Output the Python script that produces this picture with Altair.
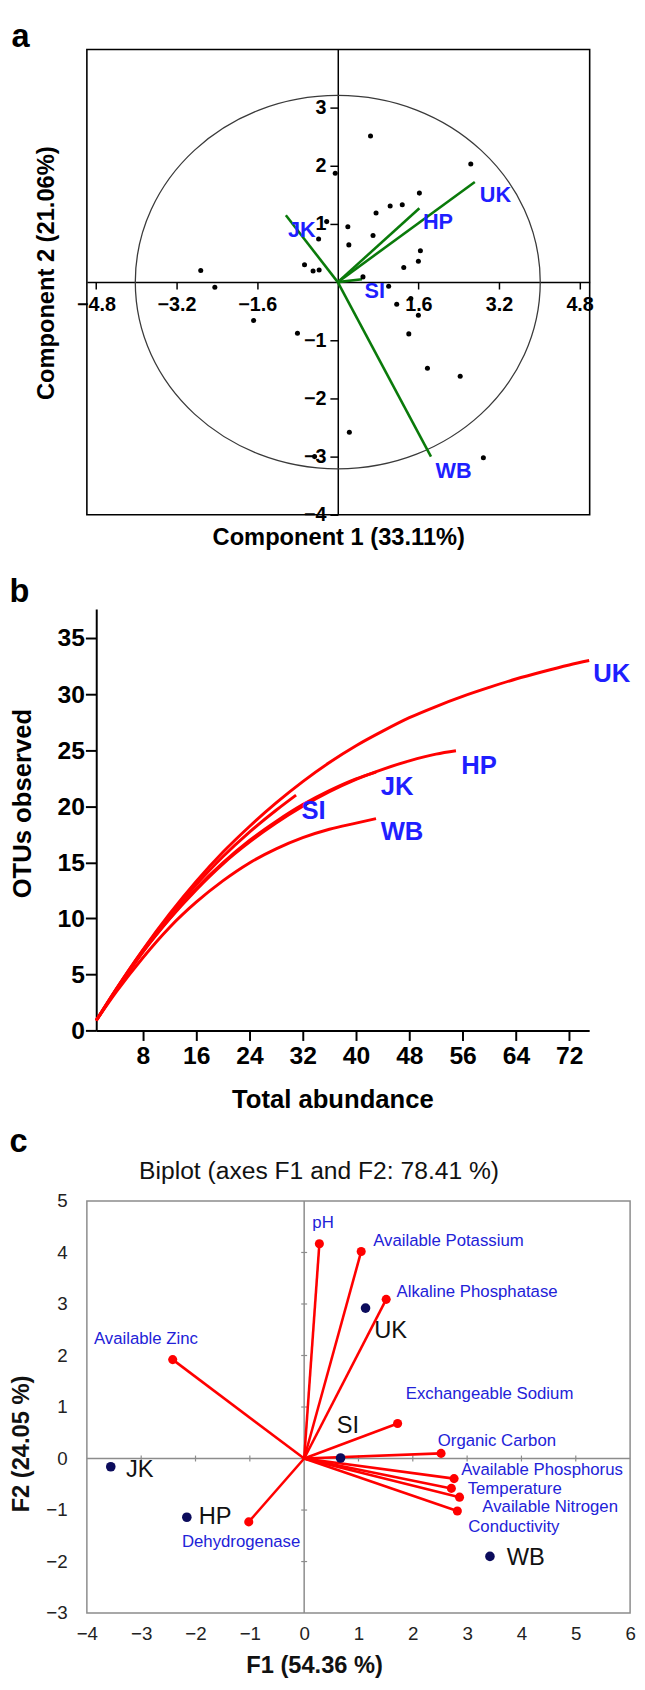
import altair as alt
import pandas as pd

FONT = "Liberation Sans"
BLUE = "#1f1fff"
GREEN = "#0a7a0a"
RED = "#ff0000"
NAVY = "#0c0c5c"
GRAY = "#8c8c8c"

# ---------------- panel a data ----------------
a_pts_x = [0.65, 2.64, -0.05, 1.62, 1.04, 1.28, 0.76, -0.22, 0.20, -0.38,
           0.70, 0.22, 1.64, 1.60, 1.31, -0.66, -0.49, -0.37, 0.50, -2.72,
           -2.44, 1.01, 1.45, 1.17, 1.60, -1.67, -0.80, 1.41, 1.78, 2.43,
           0.23, 2.89, -0.46]
a_pts_y = [2.51, 2.03, 1.87, 1.53, 1.31, 1.33, 1.19, 1.04, 0.95, 0.74,
           0.80, 0.64, 0.54, 0.36, 0.25, 0.30, 0.19, 0.21, 0.09, 0.20,
           -0.09, -0.07, -0.28, -0.38, -0.57, -0.66, -0.88, -0.89, -1.48, -1.62,
           -2.58, -3.02, -3.00]
a_sites = ["UK", "HP", "JK", "SI", "WB"]
a_vec_x = [2.72, 1.62, -1.03, 0.48, 1.85]
a_vec_y = [1.72, 1.27, 1.15, 0.05, -3.00]
a_lab_x = [2.82, 1.69, -0.99, 0.53, 1.94]
a_lab_y = [1.49, 1.04, 0.90, -0.16, -3.25]
a_xticks = [-4.8, -3.2, -1.6, 1.6, 3.2, 4.8]
a_yticks = [-4, -3, -2, -1, 1, 2, 3]

# ---------------- panel b data ----------------
b_x_UK = [1, 4, 8, 12, 16, 20, 24, 28, 32, 36, 40, 44, 48, 52, 56, 60, 64, 68, 72, 75]
b_y_UK = [0.9, 3.7, 7.2, 10.4, 13.3, 15.9, 18.2, 20.3, 22.2, 23.9, 25.4, 26.7, 27.9,
          28.9, 29.8, 30.6, 31.35, 32.0, 32.6, 33.0]
b_x_HP = [1, 4, 8, 12, 16, 20, 24, 28, 32, 36, 40, 44, 48, 52, 55]
b_y_HP = [0.9, 3.6, 7.0, 9.95, 12.55, 14.85, 16.8, 18.5, 20.0, 21.3, 22.4, 23.3, 24.05, 24.65, 24.95]
b_x_JK = [1, 4, 8, 12, 16, 20, 24, 28, 32, 36, 40, 43]
b_y_JK = [0.9, 3.65, 7.05, 10.0, 12.65, 14.95, 16.95, 18.65, 20.15, 21.4, 22.45, 23.05]
b_x_SI = [1, 4, 8, 12, 16, 20, 24, 28, 31]
b_y_SI = [0.9, 3.7, 7.15, 10.25, 13.0, 15.5, 17.7, 19.65, 21.0]
b_x_WB = [1, 4, 8, 12, 16, 20, 24, 28, 32, 36, 40, 43]
b_y_WB = [0.9, 3.45, 6.5, 9.2, 11.45, 13.35, 14.95, 16.2, 17.2, 17.95, 18.5, 18.9]
b_sites = ["UK", "HP", "JK", "SI", "WB"]
b_lab_x = [75.6, 55.8, 43.7, 31.8, 43.7]
b_lab_y = [31.8, 23.6, 21.7, 19.6, 17.7]
b_xticks = [8, 16, 24, 32, 40, 48, 56, 64, 72]
b_yticks = [0, 5, 10, 15, 20, 25, 30, 35]

# ---------------- panel c data ----------------
c_vars = ["pH", "Available Potassium", "Alkaline Phosphatase", "Available Zinc",
          "Exchangeable  Sodium", "Organic Carbon", "Available Phosphorus",
          "Temperature", "Available Nitrogen", "Conductivity", "Dehydrogenase"]
c_var_x = [0.28, 1.05, 1.51, -2.42, 1.72, 2.52, 2.76, 2.71, 2.86, 2.82, -1.02]
c_var_y = [4.17, 4.02, 3.09, 1.92, 0.68, 0.10, -0.39, -0.58, -0.75, -1.02, -1.23]
c_var_lx = [0.15, 1.27, 1.70, -3.87, 1.87, 2.46, 2.89, 3.01, 3.28, 3.02, -2.25]
c_var_ly = [4.57, 4.22, 3.23, 2.32, 1.25, 0.34, -0.22, -0.59, -0.95, -1.33, -1.63]
c_sites = ["UK", "SI", "JK", "HP", "WB"]
c_site_x = [1.13, 0.67, -3.56, -2.16, 3.42]
c_site_y = [2.92, 0.01, -0.16, -1.14, -1.90]
c_site_lx = [1.29, 0.60, -3.28, -1.94, 3.73]
c_site_ly = [2.48, 0.62, -0.22, -1.13, -1.93]
c_xticks = [-4, -3, -2, -1, 0, 1, 2, 3, 4, 5, 6]
c_yticks = [-3, -2, -1, 0, 1, 2, 3, 4, 5]
c_inner_x = [-3, -2, -1, 1, 2, 3, 4, 5]
c_inner_y = [-2, -1, 1, 2, 3, 4]

one = pd.DataFrame({"cx": [0.0], "cy": [0.0]})

# =============== PANEL A ===============
A_W, A_H = 510, 472
axs = alt.Scale(domain=[-4.98, 5.0], nice=False, zero=False)
ays = alt.Scale(domain=[-4, 4], nice=False, zero=False)

a_ax_x = alt.Axis(orient="bottom", offset=-236, values=a_xticks, format=".1f", grid=False,
                  tickSize=7, tickWidth=1.5, tickColor="black", domainColor="black", domainWidth=1.5,
                  labelFontSize=20, labelFontWeight="bold", labelColor="black", labelPadding=6,
                  labelOverlap=False, labelFlush=False, labelBound=False,
                  title="Component 1 (33.11%)", titleFontSize=24, titleFontWeight="bold",
                  titleColor="black", titleY=266.5, titleBaseline="alphabetic")
a_ax_y = alt.Axis(orient="left", offset=-254.5, values=a_yticks, format="d", grid=False,
                  tickSize=8, tickWidth=1.5, tickColor="black", domainColor="black", domainWidth=1.5,
                  labelFontSize=20, labelFontWeight="bold", labelColor="black", labelPadding=4,
                  labelOverlap=False, labelFlush=False, labelBound=False,
                  title="Component 2 (21.06%)", titleFontSize=24, titleFontWeight="bold",
                  titleColor="black", titleAngle=270, titleX=-295.5, titleY=226.5,
                  titleBaseline="middle", titleAlign="center")


def AX(field):
    return alt.X(field, scale=axs, axis=a_ax_x)


def AY(field):
    return alt.Y(field, scale=ays, axis=a_ax_y)


a_ell = alt.Chart(one).mark_point(
    shape="M-1,0A1,0.922,0,1,1,1,0A1,0.922,0,1,1,-1,0Z", size=168700,
    filled=False, color="#3a3a3a", strokeWidth=1.3, opacity=1
).encode(x=AX("cx:Q"), y=AY("cy:Q"))

a_vdf = pd.DataFrame({"site": a_sites, "vx": a_vec_x, "vy": a_vec_y, "lx": a_lab_x, "ly": a_lab_y})
a_vec = alt.Chart(a_vdf).mark_rule(color=GREEN, strokeWidth=2.6).encode(
    x=AX("vx:Q"), y=AY("vy:Q"), x2=alt.X2Datum(0), y2=alt.Y2Datum(0))
a_pdf = pd.DataFrame({"px": a_pts_x, "py": a_pts_y})
a_pts = alt.Chart(a_pdf).mark_circle(size=26, color="black", opacity=1).encode(
    x=AX("px:Q"), y=AY("py:Q"))
a_lab = alt.Chart(a_vdf).mark_text(align="left", baseline="middle", fontSize=22, fontWeight="bold",
                                   color=BLUE).encode(x=AX("lx:Q"), y=AY("ly:Q"), text="site:N")
a_letter = alt.Chart(one).mark_text(text="a", align="left", baseline="alphabetic", fontSize=33,
                                    fontWeight="bold", color="black").encode(
    x=alt.value(-76.5), y=alt.value(-2.5))
a_anchor = alt.Chart(one).mark_rule(strokeOpacity=0, strokeWidth=0).encode(
    x=alt.value(-78.5), x2=alt.value(-78.5), y=alt.value(-28.5), y2=alt.value(-28.5))

panel_a = alt.layer(a_ell, a_vec, a_pts, a_lab, a_letter, a_anchor).properties(
    width=A_W, height=A_H, view=alt.ViewBackground(stroke="black", strokeWidth=1.6))

# =============== PANEL B ===============
B_W, B_H = 552, 655.5
bxs = alt.Scale(domain=[1, 75], range=[9.5, 509.5], nice=False, zero=False)
bys = alt.Scale(domain=[0, 37.6], range=[503.2, 75.5], nice=False, zero=False)

b_ax_x = alt.Axis(orient="bottom", offset=-152.3, values=b_xticks, format="d", grid=False,
                  tickSize=10, tickWidth=2, tickColor="black", domainColor="black", domainWidth=2,
                  labelFontSize=25, labelFontWeight="bold", labelColor="black", labelPadding=3,
                  labelOverlap=False, labelFlush=False,
                  title="Total abundance", titleFontSize=26, titleFontWeight="bold", titleColor="black",
                  titleX=249, titleY=77.6, titleBaseline="alphabetic", titleAlign="center")
b_ax_y = alt.Axis(orient="left", offset=-9.5, values=b_yticks, format="d", grid=False,
                  tickSize=11, tickWidth=2, tickColor="black", domainColor="black", domainWidth=2,
                  labelFontSize=25, labelFontWeight="bold", labelColor="black", labelPadding=1,
                  labelOverlap=False, labelFlush=False,
                  title="OTUs observed", titleFontSize=26, titleFontWeight="bold", titleColor="black",
                  titleAngle=270, titleX=-74.4, titleY=272.5, titleBaseline="middle", titleAlign="center")

rows = []
for s, xs, ys in [("UK", b_x_UK, b_y_UK), ("HP", b_x_HP, b_y_HP), ("JK", b_x_JK, b_y_JK),
                  ("SI", b_x_SI, b_y_SI), ("WB", b_x_WB, b_y_WB)]:
    for i, (xv, yv) in enumerate(zip(xs, ys)):
        rows.append({"site": s, "i": i, "ab": xv, "otu": yv})
b_df = pd.DataFrame(rows)
b_lines = alt.Chart(b_df).mark_line(color=RED, strokeWidth=3, interpolate="monotone").encode(
    x=alt.X("ab:Q", scale=bxs, axis=b_ax_x), y=alt.Y("otu:Q", scale=bys, axis=b_ax_y),
    detail="site:N", order="i:Q")
b_ldf = pd.DataFrame({"site": b_sites, "lx": b_lab_x, "ly": b_lab_y})
b_lab = alt.Chart(b_ldf).mark_text(align="left", baseline="middle", fontSize=26, fontWeight="bold",
                                   color=BLUE).encode(
    x=alt.X("lx:Q", scale=bxs, axis=b_ax_x), y=alt.Y("ly:Q", scale=bys, axis=b_ax_y), text="site:N")
b_letter = alt.Chart(one).mark_text(text="b", align="left", baseline="alphabetic", fontSize=33,
                                    fontWeight="bold", color="black").encode(
    x=alt.value(-78.5), y=alt.value(68.5))

panel_b = alt.layer(b_lines, b_lab, b_letter).properties(
    width=B_W, height=B_H, view=alt.ViewBackground(stroke="transparent"))

# =============== PANEL C ===============
C_W, C_H = 551, 418
cxs = alt.Scale(domain=[-4, 6], nice=False, zero=False)
cys = alt.Scale(domain=[-3, 5], nice=False, zero=False)

c_ax_x = alt.Axis(orient="bottom", values=c_xticks, format="d", grid=False, ticks=False, tickSize=0,
                  domain=False, labelFontSize=19, labelColor="#222222", labelPadding=12,
                  labelOverlap=False, labelFlush=False,
                  title="F1 (54.36 %)", titleFontSize=24, titleFontWeight="bold", titleColor="#111111",
                  titleX=230.5, titleY=60, titleBaseline="alphabetic", titleAlign="center")
c_ax_y = alt.Axis(orient="left", values=c_yticks, format="d", grid=False, ticks=False, tickSize=0,
                  domain=False, labelFontSize=19, labelColor="#222222", labelPadding=20,
                  labelOverlap=False, labelFlush=False,
                  title="F2 (24.05 %)", titleFontSize=24, titleFontWeight="bold", titleColor="#111111",
                  titleAngle=270, titleX=-66.5, titleY=246, titleBaseline="middle", titleAlign="center")


def CX(field):
    return alt.X(field, scale=cxs, axis=c_ax_x)


def CY(field):
    return alt.Y(field, scale=cys, axis=c_ax_y)


c_cross = alt.Chart(one).mark_rule(color=GRAY, strokeWidth=1.5).encode(x=CX("cx:Q"))
c_cross_h = alt.Chart(one).mark_rule(color=GRAY, strokeWidth=1.5).encode(y=CY("cy:Q"))
c_tx = alt.Chart(pd.DataFrame({"t": c_inner_x, "z": [0] * len(c_inner_x)})).mark_tick(
    orient="vertical", size=6, thickness=1.2, color=GRAY, opacity=1).encode(
    x=CX("t:Q"), y=CY("z:Q"))
c_ty = alt.Chart(pd.DataFrame({"t": c_inner_y, "z": [0] * len(c_inner_y)})).mark_tick(
    orient="horizontal", size=6, thickness=1.2, color=GRAY, opacity=1).encode(
    y=CY("t:Q"), x=CX("z:Q"))

c_vdf = pd.DataFrame({"v": c_vars, "vx": c_var_x, "vy": c_var_y, "lx": c_var_lx, "ly": c_var_ly})
c_vec = alt.Chart(c_vdf).mark_rule(color=RED, strokeWidth=2.6).encode(
    x=CX("vx:Q"), y=CY("vy:Q"), x2=alt.X2Datum(0), y2=alt.Y2Datum(0))
c_vdot = alt.Chart(c_vdf).mark_circle(size=85, color=RED, opacity=1).encode(
    x=CX("vx:Q"), y=CY("vy:Q"))
c_vlab = alt.Chart(c_vdf).mark_text(align="left", baseline="middle", fontSize=17, color="#2222d8").encode(
    x=CX("lx:Q"), y=CY("ly:Q"), text="v:N")
c_sdf = pd.DataFrame({"s": c_sites, "sx": c_site_x, "sy": c_site_y, "lx": c_site_lx, "ly": c_site_ly})
c_sdot = alt.Chart(c_sdf).mark_circle(size=95, color=NAVY, opacity=1).encode(
    x=CX("sx:Q"), y=CY("sy:Q"))
c_slab = alt.Chart(c_sdf).mark_text(align="left", baseline="middle", fontSize=24, color="#111111").encode(
    x=CX("lx:Q"), y=CY("ly:Q"), text="s:N")
c_title = alt.Chart(one).mark_text(text="Biplot (axes F1 and F2: 78.41 %)", align="center",
                                   baseline="alphabetic", fontSize=25, color="#111111").encode(
    x=alt.value(235.5), y=alt.value(-22))
c_letter = alt.Chart(one).mark_text(text="c", align="left", baseline="alphabetic", fontSize=33,
                                    fontWeight="bold", color="black").encode(
    x=alt.value(-78.5), y=alt.value(-50))

panel_c = alt.layer(c_cross, c_cross_h, c_tx, c_ty, c_vec, c_vdot, c_sdot, c_vlab, c_slab,
                    c_title, c_letter).properties(
    width=C_W, height=C_H, view=alt.ViewBackground(stroke=GRAY, strokeWidth=1.5))

chart = alt.vconcat(panel_a, panel_b, panel_c, spacing=20, bounds="flush").properties(
    padding=0
).configure(font=FONT).configure_axis(labelFont=FONT, titleFont=FONT, grid=False).configure_text(font=FONT)

chart.save("out.html", embed_options={"renderer": "svg", "actions": False})
